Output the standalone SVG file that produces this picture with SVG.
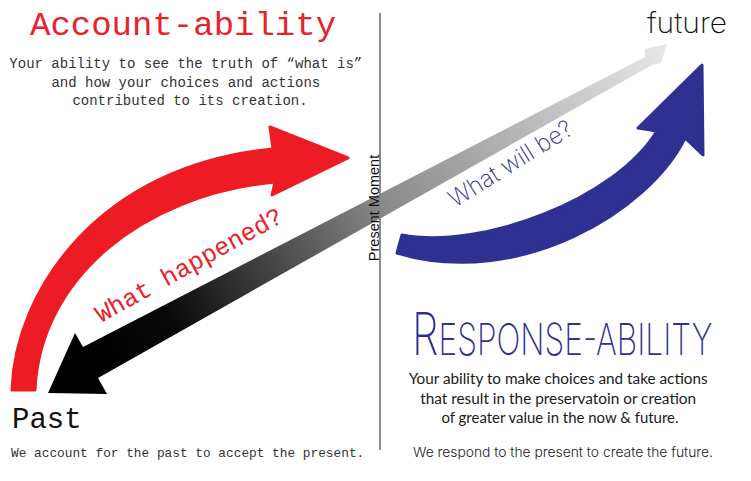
<svg xmlns="http://www.w3.org/2000/svg" width="751" height="481" viewBox="0 0 751 481">
  <defs>
    <linearGradient id="timeGrad" gradientUnits="userSpaceOnUse" x1="110" y1="360" x2="662" y2="52">
      <stop offset="0" stop-color="#000000"/>
      <stop offset="0.12" stop-color="#0a0a0a"/>
      <stop offset="0.5" stop-color="#8a8a8a"/>
      <stop offset="1" stop-color="#e6e6e6"/>
    </linearGradient>
    <style>
      .mono { font-family: "Liberation Mono", "Courier New", monospace; }
      .thin { font-family: Inter, Lato, "DejaVu Sans", sans-serif; font-weight: 200; }
      .light { font-family: Inter, Lato, "DejaVu Sans", sans-serif; font-weight: 300; }
      .round { font-family: Lato, "Noto Sans", "Liberation Sans", sans-serif; }
      .red { fill: #e8212a; }
      .blue { fill: #2e3192; }
      .dark { fill: #1a1a1a; }
    </style>
  </defs>
  <rect width="751" height="481" fill="#ffffff"/>

  <g id="connectors">
    <!-- timeline divider -->
    <line x1="380" y1="13" x2="380" y2="450" stroke="#8c8c8c" stroke-width="2"/>
    <!-- past-future time arrow -->
    <polygon points="48,393 75,333 83,347 645,57 645,49 667,44 661,63 652,65 98,378 107,394" fill="url(#timeGrad)"/>
    <!-- red account-ability arrow -->
    <path d="M12,390 C15,290 100,165 273,149 L270,127 L348,158 L272,195 L275,182 C140,195 40,280 35,390 Z" fill="#ed1c24" stroke="#ed1c24" stroke-width="3" stroke-linejoin="round"/>
    <!-- blue response-ability arrow -->
    <path d="M402,235 C480,250 615,200 657,131 L638,128 L702,65 L703,155 L685,138 C650,210 520,290 397,253 Z" fill="#2e3192" stroke="#2e3192" stroke-width="3" stroke-linejoin="round"/>
  </g>

  <g id="account">
    <text class="mono red" x="30" y="35" font-size="34">Account-ability</text>
    <text class="mono" fill="#333" font-size="14" text-anchor="middle">
      <tspan x="190" y="68">Your ability to see the truth of “what is”</tspan>
      <tspan x="190" y="86.5">and how your choices and actions</tspan>
      <tspan x="190" y="105">contributed to its creation.</tspan>
    </text>
    <text class="mono red" font-size="25" transform="translate(101,323) rotate(-29)">What happened?</text>
  </g>

  <g id="past">
    <text class="mono" fill="#111" x="12" y="428" font-size="29">Past</text>
    <text class="mono" fill="#333" x="11" y="457" font-size="12.8">We account for the past to accept the present.</text>
  </g>

  <g id="present">
    <text font-family="'Liberation Sans', Arial, sans-serif" font-size="14.5" fill="#111" text-anchor="middle" transform="translate(379,208) rotate(-90)">Present Moment</text>
  </g>

  <g id="future">
    <text class="thin" fill="#111" x="647" y="33" font-size="28" textLength="80" lengthAdjust="spacingAndGlyphs">future</text>
  </g>

  <g id="response">
    <text class="thin blue" font-size="24" transform="translate(455,208) rotate(-32)" textLength="141" lengthAdjust="spacingAndGlyphs">What will be?</text>
    <text class="thin blue" font-size="59" transform="translate(412,355) scale(0.72,1)">R<tspan font-size="44">ESPONSE-ABILITY</tspan></text>
    <text class="round dark" font-size="14.5" text-anchor="middle">
      <tspan x="560" y="384" textLength="299" lengthAdjust="spacingAndGlyphs">Your ability to make choices and take actions</tspan>
      <tspan x="560" y="403.5" textLength="276" lengthAdjust="spacingAndGlyphs">that result in the preservatoin or creation</tspan>
      <tspan x="560" y="423" textLength="237" lengthAdjust="spacingAndGlyphs">of greater value in the now &amp; future.</tspan>
    </text>
    <text class="light dark" x="413" y="457" font-size="13.5" textLength="300" lengthAdjust="spacingAndGlyphs">We respond to the present to create the future.</text>
  </g>
</svg>
